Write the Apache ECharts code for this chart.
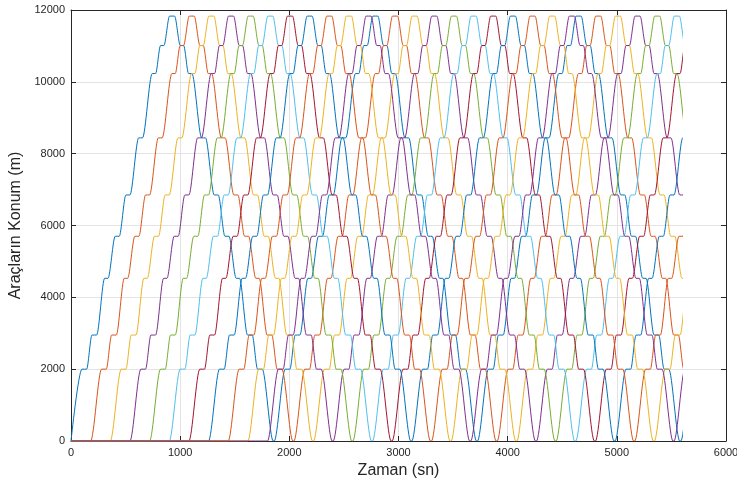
<!DOCTYPE html>
<html>
<head>
<meta charset="utf-8">
<script src="https://cdn.jsdelivr.net/npm/echarts@6/dist/echarts.min.js"></script>
<style>
  html, body { margin: 0; padding: 0; background: #fff; }
  #chart { width: 737px; height: 486px; }
</style>
</head>
<body>
<div id="chart"></div>
<script>
// stop positions along the line (m)
var stations = [0, 2000, 2950, 4530, 5700, 6850, 8440, 10230, 11010, 11830];
// outbound timetable, seconds after leaving the depot
var upArrive = [0, 100, 192, 308, 405, 503, 620, 744, 820, 903];
var upDepart = [0, 143, 235, 339, 442, 540, 655, 775, 851, 949];
// turnaround wait back at the depot (s)
var depotWait = 10;
// when each vehicle first leaves the depot (s)
var startTimes = [0, 180, 360, 540, 720, 900, 1080, 1260, 1440, 1620, 1800];
// simulation stops here (s)
var endTime = 5590;
var xTicks = [0, 1000, 2000, 3000, 4000, 5000, 6000];
var yTicks = [0, 2000, 4000, 6000, 8000, 10000, 12000];

var colors = ['#0072BD', '#D95319', '#EDB120', '#7E2F8E', '#77AC30', '#4DBEEE', '#A2142F'];
var last = stations.length - 1;

// one vehicle: wait at 0, then run up and down the timetable until endTime
function vehiclePath(start) {
    var pts = [[0, 0]];
    var t0 = start;
    while (true) {
        for (var i = 0; i <= last; i++) {
            pts.push([t0 + upArrive[i], stations[i]]);
            if (upDepart[i] !== upArrive[i]) pts.push([t0 + upDepart[i], stations[i]]);
        }
        if (t0 + upDepart[last] > endTime) break;
        var topDep = t0 + upDepart[last];
        for (var j = last - 1; j >= 0; j--) {
            pts.push([topDep + upArrive[last] - upDepart[j], stations[j]]);
            if (upDepart[j] !== upArrive[j]) pts.push([topDep + upArrive[last] - upArrive[j], stations[j]]);
        }
        var back = topDep + upArrive[last];
        if (back > endTime) break;
        t0 = back + depotWait;
        if (t0 > endTime) { pts.push([t0, 0]); break; }
    }
    return pts;
}

var chart = echarts.init(document.getElementById('chart'));

var ink = '#262626';
var font = '"Liberation Sans", Arial, sans-serif';
var plotW = 737 - 71 - 11;

var series = startTimes.map(function (s, k) {
    return {
        type: 'line',
        xAxisIndex: 2,
        yAxisIndex: 2,
        data: vehiclePath(s),
        showSymbol: false,
        smooth: 0.3,
        smoothMonotone: 'x',
        clip: true,
        silent: true,
        lineStyle: { width: 1, color: colors[k % colors.length] }
    };
});

function frameAxis(pos, withLabels, extra) {
    var a = {
        gridIndex: 0,
        type: 'value',
        position: pos,
        axisLine: { show: true, onZero: false, lineStyle: { color: ink, width: 1 } },
        axisTick: { show: true, inside: true, length: 5, lineStyle: { color: ink } },
        axisLabel: {
            show: withLabels, color: ink, fontSize: 11, fontFamily: font, margin: 6,
            formatter: function (v) { return String(v); }
        },
        splitLine: { show: withLabels, lineStyle: { color: '#e3e3e3', width: 1 } }
    };
    return Object.assign(a, extra);
}

option = {
    animation: false,
    backgroundColor: '#fff',
    grid: [
        { left: 71, right: 11, top: 10, bottom: 45, outerBoundsMode: 'none', containLabel: false },
        { left: 71, top: 10, bottom: 45, width: plotW * endTime / xTicks[xTicks.length - 1],
          outerBoundsMode: 'none', containLabel: false }
    ],
    xAxis: [
        frameAxis('bottom', true, {
            min: xTicks[0], max: xTicks[xTicks.length - 1], interval: 1000,
            name: 'Zaman (sn)', nameLocation: 'middle', nameGap: 21,
            nameTextStyle: { color: ink, fontSize: 16, fontFamily: font }
        }),
        frameAxis('top', false, { min: xTicks[0], max: xTicks[xTicks.length - 1], interval: 1000 }),
        { gridIndex: 1, type: 'value', min: 0, max: endTime, show: false }
    ],
    yAxis: [
        frameAxis('left', true, {
            min: yTicks[0], max: yTicks[yTicks.length - 1], interval: 2000,
            name: 'Araçların Konum (m)', nameLocation: 'middle', nameGap: 39,
            nameTextStyle: { color: ink, fontSize: 16, fontFamily: font }
        }),
        frameAxis('right', false, { min: yTicks[0], max: yTicks[yTicks.length - 1], interval: 2000 }),
        { gridIndex: 1, type: 'value', min: 0, max: 12000, show: false }
    ],
    series: series
};

chart.setOption(option);
</script>
</body>
</html>
